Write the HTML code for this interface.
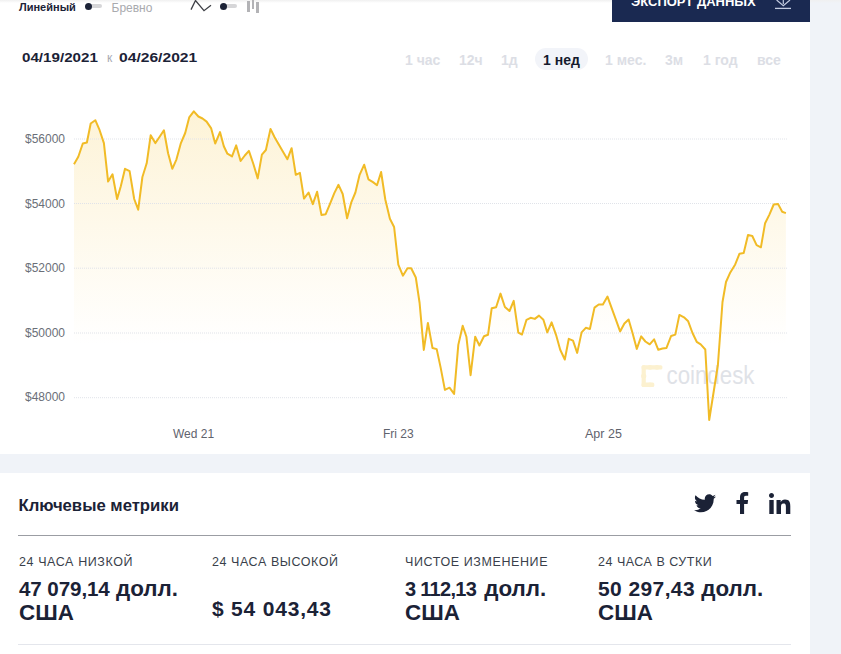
<!DOCTYPE html>
<html><head><meta charset="utf-8">
<style>
*{margin:0;padding:0;box-sizing:border-box}
html,body{width:841px;height:654px;overflow:hidden;background:#f0f3f8;font-family:"Liberation Sans",sans-serif}
.abs{position:absolute;white-space:nowrap}
#card1{position:absolute;left:0;top:0;width:810px;height:454px;background:#fff}
#card2{position:absolute;left:0;top:473px;width:810px;height:181px;background:#fff}
#topshade{position:absolute;left:0;top:0;width:841px;height:3px;background:linear-gradient(#f0f0f0,rgba(255,255,255,0))}
.lbl{font-size:11px;color:#1b2236;font-weight:bold}
.grey{color:#a9aaae;font-size:11px}
.tog{position:absolute;height:4px;border-radius:2px;background:#d6d6d8}
.dot{position:absolute;width:7px;height:7px;border-radius:50%;background:#1b2236}
.date{font-size:13.3px;font-weight:bold;color:#1b2236;transform:scaleX(1.14);transform-origin:0 0}
.rng{font-size:14px;font-weight:bold;color:#dcdee5;top:52px}
.ylab{font-size:12px;color:#6b6f78;left:25px;margin-top:0.5px}
.xlab{font-size:12px;color:#5f636d;margin-top:1px}
.mlab{font-size:12.5px;line-height:14px;color:#3a3f4b;top:554.6px}
.mv{font-size:22.4px;line-height:22px;font-weight:bold;color:#1b2236}
.d{font-size:20px}
</style></head><body>
<div id="card1"></div>
<div id="card2"></div>
<div id="topshade"></div>

<div class="abs lbl" style="left:19px;top:1px">Линейный</div>
<div class="tog" style="left:86px;top:4px;width:16px"></div>
<div class="dot" style="left:85px;top:3px"></div>
<div class="abs grey" style="left:111.5px;top:0.5px;font-size:12px">Бревно</div>
<svg class="abs" style="left:188px;top:0" width="26" height="14"><polyline points="3,9.6 7.5,0.5 16,10.7 23,5.3" fill="none" stroke="#3d3f45" stroke-width="1.3"/></svg>
<div class="tog" style="left:221px;top:4px;width:16px"></div>
<div class="dot" style="left:220px;top:3px"></div>
<div class="abs" style="left:247px;top:1px;width:3px;height:10.6px;background:#b3b3b6"></div>
<div class="abs" style="left:251.6px;top:0;width:2.9px;height:8.6px;background:#b3b3b6"></div>
<div class="abs" style="left:256.2px;top:2px;width:2.8px;height:10.6px;background:#b3b3b6"></div>

<div class="abs" style="left:612px;top:0;width:198px;height:21.5px;background:#1a2951"></div>
<div class="abs" style="left:631px;top:-6px;font-size:13px;font-weight:bold;color:#fff;letter-spacing:0px">ЭКСПОРТ ДАННЫХ</div>
<svg class="abs" style="left:770px;top:0" width="26" height="12"><polyline points="6.6,0 13.3,5.7 20,0" fill="none" stroke="#c3cbe0" stroke-width="1.2"/><line x1="13.3" y1="0" x2="13.3" y2="4" stroke="#c3cbe0" stroke-width="1.2"/><line x1="5" y1="8.4" x2="21" y2="8.4" stroke="#c3cbe0" stroke-width="1.3"/></svg>

<div class="abs date" style="left:22px;top:50px">04/19/2021</div>
<div class="abs" style="left:107px;top:51px;font-size:12px;color:#a7aab3">к</div>
<div class="abs date" style="left:119px;top:50px;transform:scaleX(1.175)">04/26/2021</div>

<div class="abs rng" style="left:405px">1 час</div>
<div class="abs rng" style="left:459px">12ч</div>
<div class="abs rng" style="left:501px">1д</div>
<div class="abs" style="left:535px;top:47.5px;width:53px;height:22px;border-radius:11px;background:#f2f4f9"></div>
<div class="abs rng" style="left:543px;color:#141a2e">1 нед</div>
<div class="abs rng" style="left:605px">1 мес.</div>
<div class="abs rng" style="left:665px">3м</div>
<div class="abs rng" style="left:703px">1 год</div>
<div class="abs rng" style="left:757px">все</div>

<svg class="abs" style="left:0;top:0" width="810" height="454">
<defs><linearGradient id="g" x1="0" y1="110" x2="0" y2="345" gradientUnits="userSpaceOnUse"><stop offset="0" stop-color="#f7c948" stop-opacity="0.22"/><stop offset="1" stop-color="#f7c948" stop-opacity="0"/></linearGradient></defs>

<path d="M74.0 164.2 L78.3 156.8 L82.8 143.5 L86.9 142.5 L90.7 123.5 L95.3 120.2 L99.3 129.3 L103.9 143.1 L108.1 181.6 L112.5 174.3 L117.1 199.0 L120.8 186.2 L125.0 168.8 L129.6 171.2 L134.2 199.0 L138.2 209.7 L142.4 177.0 L146.7 163.3 L150.7 135.2 L155.3 143.1 L159.5 137.0 L163.9 130.3 L168.1 153.2 L172.3 168.8 L176.4 159.6 L180.9 143.1 L185.2 133.0 L189.2 117.4 L193.8 111.4 L198.4 116.5 L202.5 118.5 L206.6 121.6 L211.2 128.4 L215.2 143.6 L220.0 132.1 L223.8 146.3 L227.4 153.7 L232.0 156.4 L236.2 145.4 L240.6 161.0 L244.8 155.5 L248.9 150.9 L253.3 163.8 L257.7 178.4 L261.9 154.6 L265.9 150.0 L270.5 128.9 L274.6 137.2 L278.8 144.5 L283.0 151.8 L287.4 159.2 L291.6 148.2 L295.8 174.8 L299.9 172.9 L304.0 198.6 L308.6 192.5 L312.8 204.1 L317.1 191.8 L321.5 215.1 L325.7 214.2 L329.9 204.1 L334.3 193.1 L338.5 184.8 L342.7 194.0 L347.1 218.2 L351.3 202.3 L355.4 192.5 L359.6 174.8 L364.2 164.7 L368.4 179.3 L373.0 182.1 L377.0 185.2 L381.1 172.0 L385.3 199.5 L389.9 218.8 L394.1 227.0 L398.3 264.7 L402.9 275.7 L407.5 268.3 L411.2 268.3 L415.8 277.5 L419.6 303.0 L423.8 349.9 L427.9 322.9 L432.5 348.0 L436.7 349.1 L440.7 367.9 L444.9 389.9 L449.5 387.7 L454.1 393.9 L458.3 344.9 L462.7 325.7 L466.4 336.7 L470.6 375.2 L475.2 336.7 L479.4 345.5 L484.0 336.3 L488.0 334.8 L491.7 308.3 L496.1 307.3 L500.5 293.6 L504.9 307.0 L509.5 311.0 L513.7 300.9 L518.3 332.6 L522.0 334.5 L526.5 319.8 L530.6 317.8 L534.8 318.9 L539.0 315.6 L543.4 319.8 L547.3 332.4 L551.6 322.3 L556.1 335.1 L560.2 349.8 L564.8 359.5 L568.8 338.8 L573.0 340.6 L577.2 352.9 L581.6 332.4 L585.8 327.8 L589.9 329.0 L594.5 307.6 L598.7 304.5 L602.9 304.5 L607.5 296.6 L611.5 307.6 L615.7 319.1 L620.1 331.4 L624.4 323.5 L628.6 319.5 L632.6 333.3 L636.8 348.9 L641.2 336.4 L645.4 341.5 L649.7 344.3 L654.1 339.3 L658.3 349.8 L662.5 348.5 L666.5 347.9 L671.1 336.0 L675.3 334.6 L679.4 314.9 L684.0 317.3 L688.2 321.3 L692.5 333.0 L696.7 341.8 L700.7 344.4 L705.3 349.5 L709.2 420.0 L717.9 365.0 L722.5 302.0 L726.0 282.0 L730.3 272.4 L735.2 264.4 L739.5 253.7 L743.7 253.1 L748.0 234.9 L752.3 236.0 L756.6 245.2 L760.9 247.3 L765.1 223.2 L769.4 214.6 L773.7 204.5 L778.0 203.9 L782.2 211.8 L785.9 213.1 L785.9 398 L74.0 398 Z" fill="url(#g)"/>
<g stroke="#e0e3e9" stroke-width="1" stroke-dasharray="1 1">
<line x1="74" y1="139" x2="787" y2="139"/>
<line x1="74" y1="203.5" x2="787" y2="203.5"/>
<line x1="74" y1="268.2" x2="787" y2="268.2"/>
<line x1="74" y1="333" x2="787" y2="333"/>
<line x1="74" y1="397.7" x2="787" y2="397.7"/>
</g>
<g fill="#fcf1d0"><rect x="641.6" y="365.2" width="4.2" height="21.8" rx="1.5"/><rect x="641.6" y="365.2" width="20.8" height="4.4" rx="1.5"/><rect x="641.6" y="382.6" width="12.7" height="4.4" rx="1.5"/><circle cx="643.7" cy="376" r="2.6"/><circle cx="650" cy="367.4" r="2.4"/><circle cx="657" cy="367.4" r="2.4"/><circle cx="650" cy="384.8" r="2.4"/></g>
<text transform="translate(666.5,383.5) scale(1,1.12)" x="0" y="0" font-family="Liberation Sans" font-size="22.3" fill="#dfe2e7">coindesk</text>
<path d="M74.0 164.2 L78.3 156.8 L82.8 143.5 L86.9 142.5 L90.7 123.5 L95.3 120.2 L99.3 129.3 L103.9 143.1 L108.1 181.6 L112.5 174.3 L117.1 199.0 L120.8 186.2 L125.0 168.8 L129.6 171.2 L134.2 199.0 L138.2 209.7 L142.4 177.0 L146.7 163.3 L150.7 135.2 L155.3 143.1 L159.5 137.0 L163.9 130.3 L168.1 153.2 L172.3 168.8 L176.4 159.6 L180.9 143.1 L185.2 133.0 L189.2 117.4 L193.8 111.4 L198.4 116.5 L202.5 118.5 L206.6 121.6 L211.2 128.4 L215.2 143.6 L220.0 132.1 L223.8 146.3 L227.4 153.7 L232.0 156.4 L236.2 145.4 L240.6 161.0 L244.8 155.5 L248.9 150.9 L253.3 163.8 L257.7 178.4 L261.9 154.6 L265.9 150.0 L270.5 128.9 L274.6 137.2 L278.8 144.5 L283.0 151.8 L287.4 159.2 L291.6 148.2 L295.8 174.8 L299.9 172.9 L304.0 198.6 L308.6 192.5 L312.8 204.1 L317.1 191.8 L321.5 215.1 L325.7 214.2 L329.9 204.1 L334.3 193.1 L338.5 184.8 L342.7 194.0 L347.1 218.2 L351.3 202.3 L355.4 192.5 L359.6 174.8 L364.2 164.7 L368.4 179.3 L373.0 182.1 L377.0 185.2 L381.1 172.0 L385.3 199.5 L389.9 218.8 L394.1 227.0 L398.3 264.7 L402.9 275.7 L407.5 268.3 L411.2 268.3 L415.8 277.5 L419.6 303.0 L423.8 349.9 L427.9 322.9 L432.5 348.0 L436.7 349.1 L440.7 367.9 L444.9 389.9 L449.5 387.7 L454.1 393.9 L458.3 344.9 L462.7 325.7 L466.4 336.7 L470.6 375.2 L475.2 336.7 L479.4 345.5 L484.0 336.3 L488.0 334.8 L491.7 308.3 L496.1 307.3 L500.5 293.6 L504.9 307.0 L509.5 311.0 L513.7 300.9 L518.3 332.6 L522.0 334.5 L526.5 319.8 L530.6 317.8 L534.8 318.9 L539.0 315.6 L543.4 319.8 L547.3 332.4 L551.6 322.3 L556.1 335.1 L560.2 349.8 L564.8 359.5 L568.8 338.8 L573.0 340.6 L577.2 352.9 L581.6 332.4 L585.8 327.8 L589.9 329.0 L594.5 307.6 L598.7 304.5 L602.9 304.5 L607.5 296.6 L611.5 307.6 L615.7 319.1 L620.1 331.4 L624.4 323.5 L628.6 319.5 L632.6 333.3 L636.8 348.9 L641.2 336.4 L645.4 341.5 L649.7 344.3 L654.1 339.3 L658.3 349.8 L662.5 348.5 L666.5 347.9 L671.1 336.0 L675.3 334.6 L679.4 314.9 L684.0 317.3 L688.2 321.3 L692.5 333.0 L696.7 341.8 L700.7 344.4 L705.3 349.5 L709.2 420.0 L717.9 365.0 L722.5 302.0 L726.0 282.0 L730.3 272.4 L735.2 264.4 L739.5 253.7 L743.7 253.1 L748.0 234.9 L752.3 236.0 L756.6 245.2 L760.9 247.3 L765.1 223.2 L769.4 214.6 L773.7 204.5 L778.0 203.9 L782.2 211.8 L785.9 213.1" fill="none" stroke="#f1bb26" stroke-width="2" stroke-linejoin="round"/>
</svg>

<div class="abs ylab" style="top:131px">$56000</div>
<div class="abs ylab" style="top:196px">$54000</div>
<div class="abs ylab" style="top:260px">$52000</div>
<div class="abs ylab" style="top:325px">$50000</div>
<div class="abs ylab" style="top:389px">$48000</div>

<div class="abs xlab" style="left:173px;top:426px">Wed 21</div>
<div class="abs xlab" style="left:383px;top:426px">Fri 23</div>
<div class="abs xlab" style="left:585px;top:426px;font-size:12.5px">Apr 25</div>

<div class="abs" style="left:18.5px;top:496px;font-size:16.7px;font-weight:bold;color:#1b2236">Ключевые метрики</div>
<svg class="abs" style="left:694px;top:494px" width="22" height="19" viewBox="0 0 24 20"><path fill="#1b2236" d="M24 2.4c-.9.4-1.8.6-2.8.8 1-.6 1.8-1.6 2.2-2.7-1 .6-2 1-3.1 1.2C19.3.6 18 0 16.6 0c-2.7 0-4.9 2.2-4.9 4.9 0 .4 0 .8.1 1.1C7.7 5.8 4.1 3.9 1.7.9c-.4.7-.7 1.6-.7 2.5 0 1.7.9 3.2 2.2 4.1-.8 0-1.6-.2-2.2-.6v.1c0 2.4 1.7 4.4 3.9 4.8-.4.1-.8.2-1.3.2-.3 0-.6 0-.9-.1.6 2 2.4 3.4 4.6 3.4-1.7 1.3-3.8 2.1-6.1 2.1-.4 0-.8 0-1.2-.1 2.2 1.4 4.8 2.2 7.5 2.2 9.1 0 14-7.5 14-14v-.6c1-.7 1.8-1.6 2.5-2.5z"/></svg>
<svg class="abs" style="left:736px;top:492px" width="13" height="22" viewBox="0 0 12 22"><path fill="#1b2236" d="M3.5 22V12H0V8h3.5V5.2C3.5 1.8 5.6 0 8.6 0c1.4 0 2.7.1 3.1.2v3.6H9.5C7.9 3.8 7.6 4.6 7.6 5.7V8h4l-.5 4H7.6v10z"/></svg>
<svg class="abs" style="left:769px;top:493px" width="23" height="21" viewBox="0 0 23 21"><path fill="#1b2236" d="M0.3 7h4.4v14H0.3zM2.5 0C3.9 0 5 1.1 5 2.5S3.9 5 2.5 5 0 3.9 0 2.5 1.1 0 2.5 0zM7.5 7h4.2v1.9h.1c.6-1.1 2-2.3 4.2-2.3 4.5 0 5.3 2.9 5.3 6.7V21h-4.4v-6.8c0-1.6 0-3.7-2.3-3.7s-2.6 1.8-2.6 3.6V21H7.5z"/></svg>
<div class="abs" style="left:18px;top:535px;width:773px;height:1px;background:#9b9da3"></div>

<div class="abs mlab" style="left:19px;letter-spacing:0.6px">24 ЧАСА НИЗКОЙ</div>
<div class="abs mlab" style="left:212px;letter-spacing:0.57px">24 ЧАСА ВЫСОКОЙ</div>
<div class="abs mlab" style="left:405px;letter-spacing:0.6px">ЧИСТОЕ ИЗМЕНЕНИЕ</div>
<div class="abs mlab" style="left:598px;letter-spacing:0.51px">24 ЧАСА В СУТКИ</div>

<div class="abs mv" style="left:19px;top:577.9px"><span class="d" style="font-size:20.6px;letter-spacing:-0.1px">47 079,14</span> долл.</div>
<div class="abs mv" style="left:19px;top:602.2px">США</div>
<div class="abs mv" style="left:212px;top:597.5px;font-size:21px;line-height:22px;letter-spacing:0.8px">$ 54 043,43</div>
<div class="abs mv" style="left:405px;top:577.9px"><span class="d" style="letter-spacing:-0.7px;margin-right:1.8px">3 112,13</span> долл.</div>
<div class="abs mv" style="left:405px;top:602.2px">США</div>
<div class="abs mv" style="left:598px;top:577.9px"><span class="d" style="font-size:21px;letter-spacing:0.4px">50 297,43</span> долл.</div>
<div class="abs mv" style="left:598px;top:602.2px">США</div>
<div class="abs" style="left:18px;top:644px;width:773px;height:1px;background:#e4e6ec"></div>
</body></html>
